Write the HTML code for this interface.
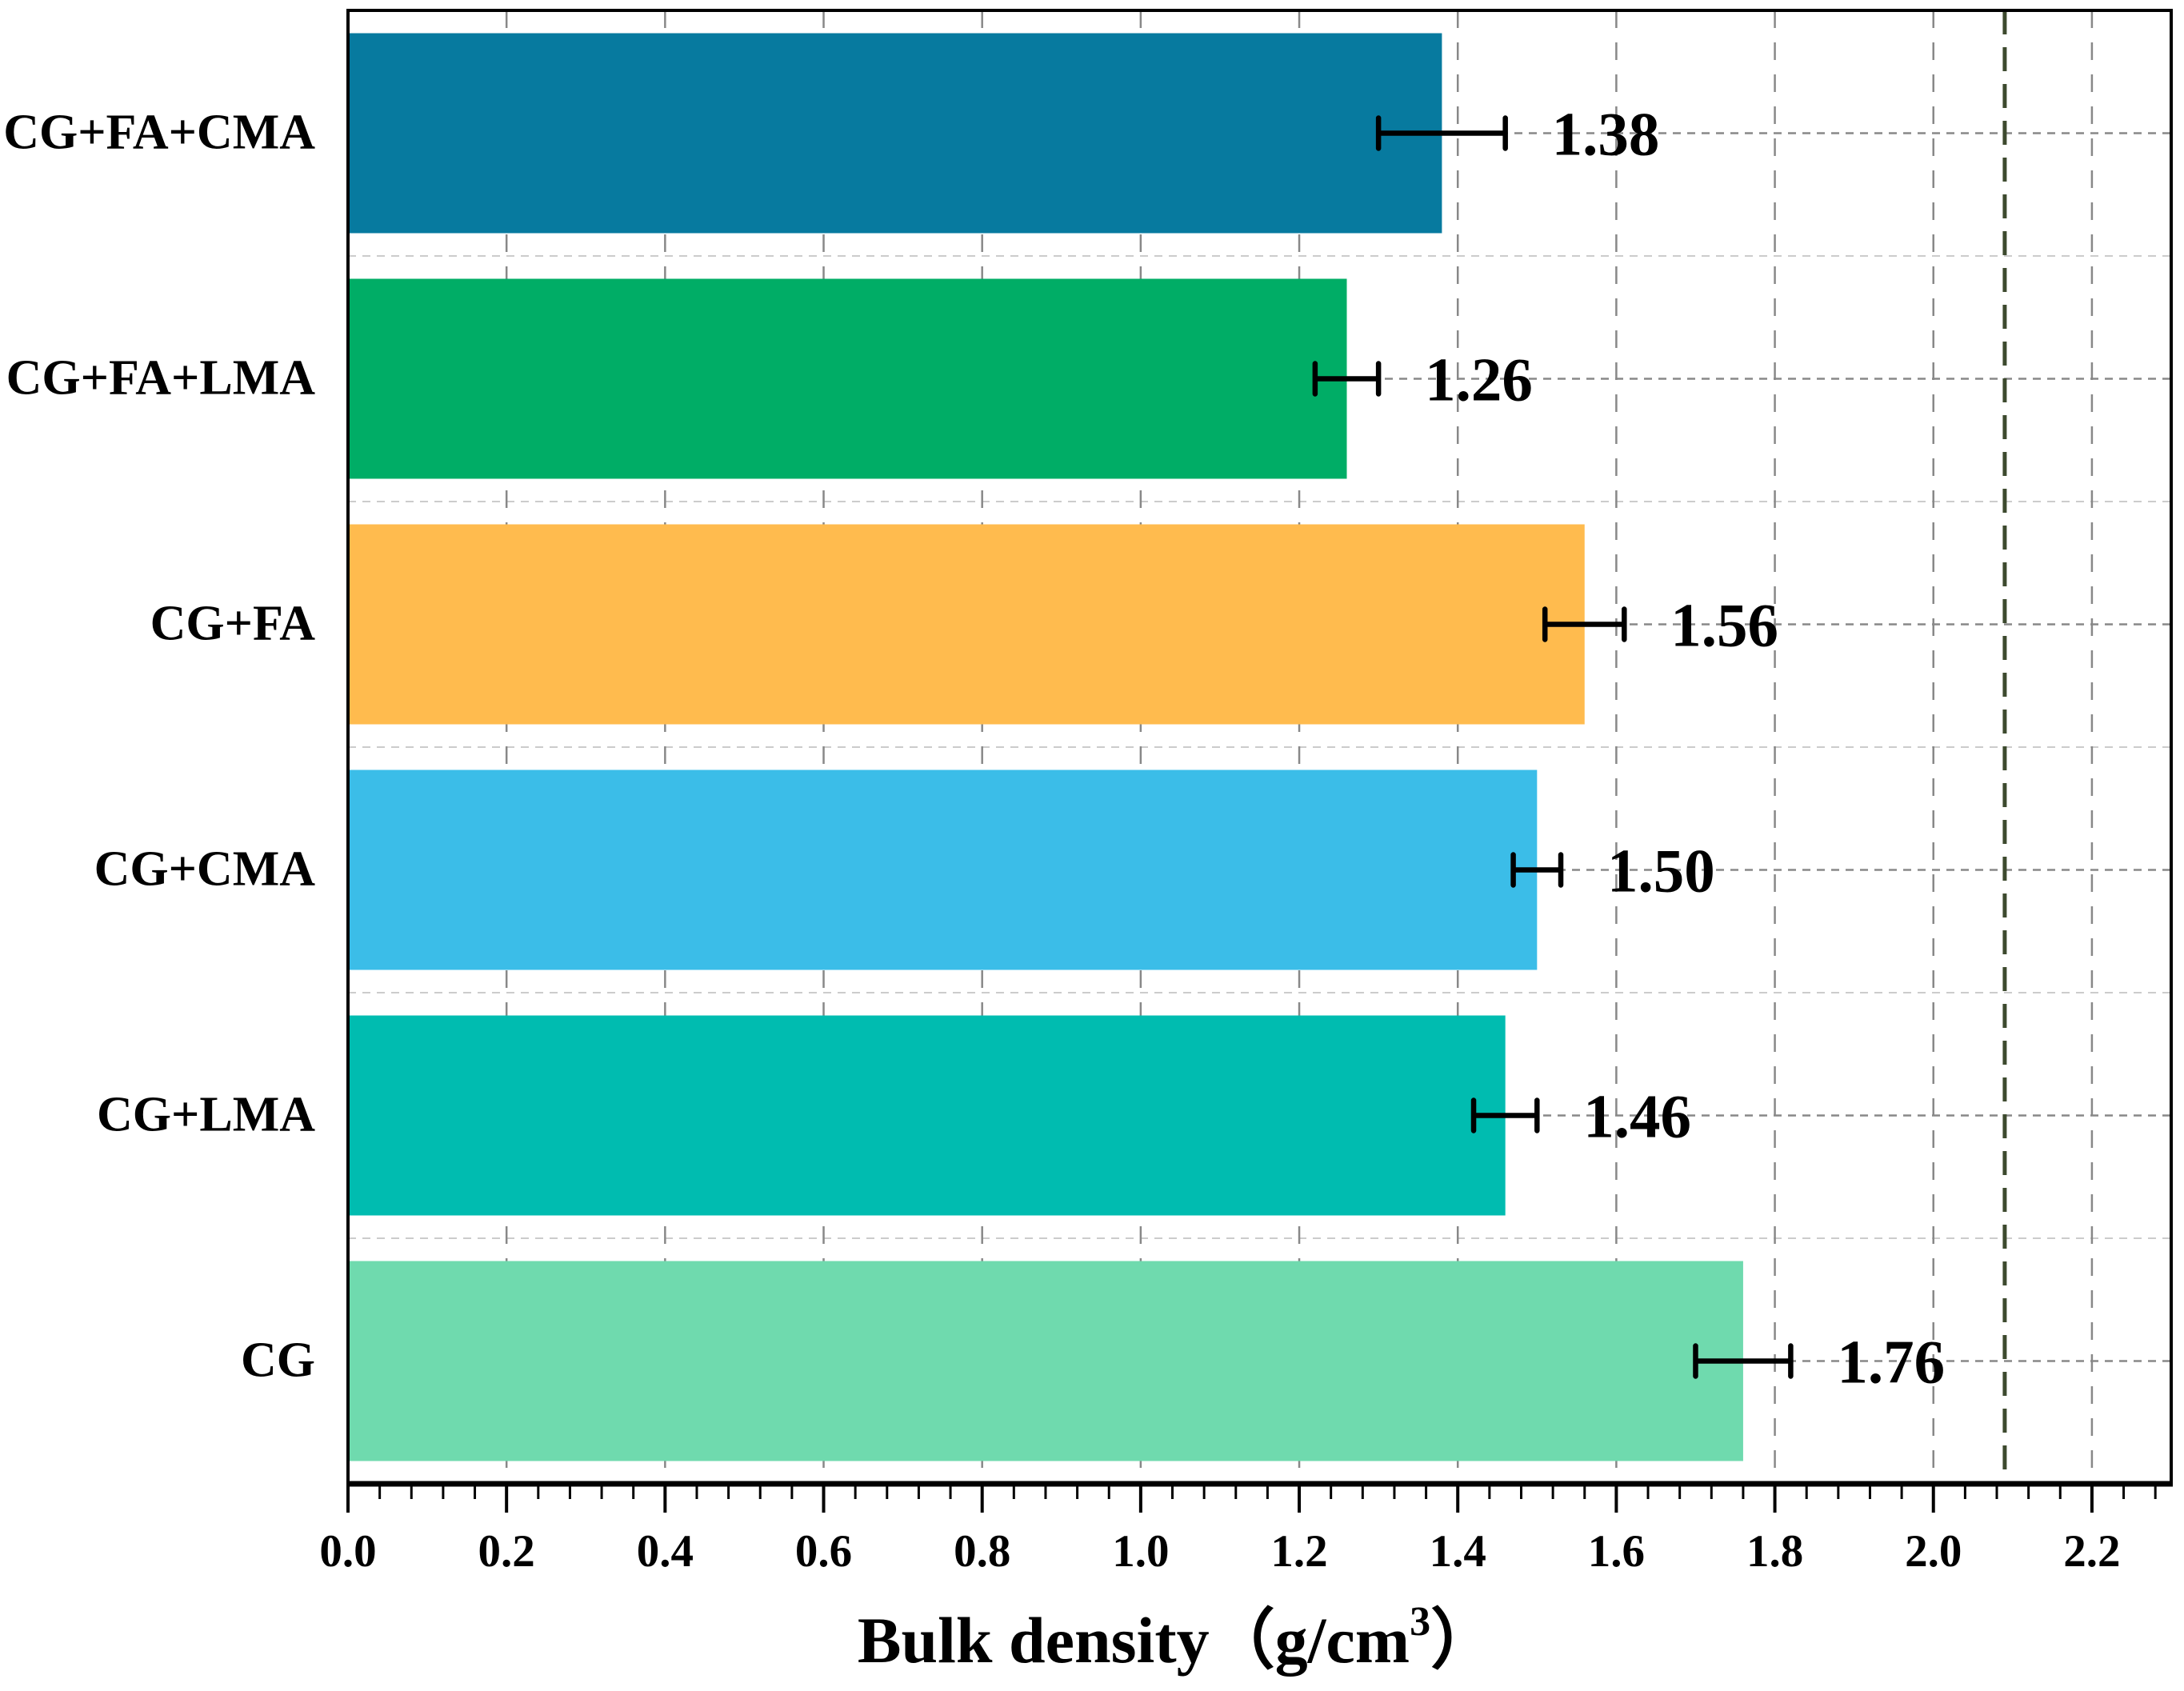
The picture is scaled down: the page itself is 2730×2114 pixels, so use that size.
<!DOCTYPE html>
<html><head><meta charset="utf-8"><style>
html,body{margin:0;padding:0;background:#fff;}
svg{display:block;}
text{font-family:"Liberation Serif",serif;font-weight:bold;fill:#000;}
</style></head><body>
<svg id="chart" width="2730" height="2114" viewBox="0 0 2730 2114" xmlns="http://www.w3.org/2000/svg">
<g id="grid"></g>
<g id="bars"></g>
<g id="axes"></g>
<text x="1471" y="2078" text-anchor="middle" font-size="82">Bulk density（g/cm<tspan font-size="52" dy="-34">3</tspan><tspan dy="34">）</tspan></text>
</svg>
<script>
const categories = ["CG+FA+CMA","CG+FA+LMA","CG+FA","CG+CMA","CG+LMA","CG"];
const values = [1.38,1.26,1.56,1.50,1.46,1.76];
const errors = [0.08,0.04,0.05,0.03,0.04,0.06];
const valueLabels = ["1.38","1.26","1.56","1.50","1.46","1.76"];
const colors = ["#077a9f","#00ad66","#ffbb4e","#3bbde8","#00bcb0","#6fdaae"];
const xTicks = [0,0.2,0.4,0.6,0.8,1.0,1.2,1.4,1.6,1.8,2.0,2.2];
const xTickLabels = ["0.0","0.2","0.4","0.6","0.8","1.0","1.2","1.4","1.6","1.8","2.0","2.2"];
const refLine = 2.09;

const L=435,R=2714,T=13,B=1855,XMAX=2.3;
const X=v=>L+(v/XMAX)*(R-L);
const band=(B-T)/categories.length;
const Yc=i=>T+band*(i+0.5);
const barH=250;
const NS="http://www.w3.org/2000/svg";
function mk(tag,attrs,parent){const e=document.createElementNS(NS,tag);for(const k in attrs)e.setAttribute(k,attrs[k]);parent.appendChild(e);return e;}
const grid=document.getElementById('grid'),bars=document.getElementById('bars'),axes=document.getElementById('axes');

for(let i=0;i<categories.length;i++){
  const g1=mk('line',{x1:L,x2:R,y1:Yc(i),y2:Yc(i),stroke:'#888','stroke-width':2.5,'stroke-dasharray':'10 8'},grid);
  
  
  if(i>0){
    const g2=mk('line',{x1:L,x2:R,y1:T+band*i,y2:T+band*i,stroke:'#ccc','stroke-width':2,'stroke-dasharray':'10 8'},grid);
    
    
  }
}
xTicks.forEach(v=>{ if(v===0)return;
  const g=mk('line',{x1:X(v),x2:X(v),y1:T,y2:B,stroke:'#888','stroke-width':2.5,'stroke-dasharray':'22 18'},grid);
  
  
});
categories.forEach((c,i)=>{
  const y=Yc(i)-barH/2;
  const r=mk('rect',{x:L,y:y,width:X(values[i])-L,height:barH,fill:colors[i]},bars);
  
  
  const lo=X(values[i]-errors[i]),hi=X(values[i]+errors[i]),yc=Yc(i);
  const e=mk('path',{d:`M${lo},${yc}H${hi}M${lo},${yc-19}V${yc+19}M${hi},${yc-19}V${yc+19}`,stroke:'#000','stroke-width':6.5,fill:'none','stroke-linecap':'round'},bars);
  
  
  const t=mk('text',{x:hi+58,y:yc+27,'font-size':77},bars);
  t.textContent=valueLabels[i];
  
  
  const cl=mk('text',{x:394,y:yc+19,'text-anchor':'end','font-size':62},axes);
  cl.textContent=c;
  
  
});
const rl=mk('line',{x1:X(refLine),x2:X(refLine),y1:T,y2:B,stroke:'#3d4a2e','stroke-width':5,'stroke-dasharray':'30 16'},bars);


const fr=mk('rect',{x:L,y:T,width:R-L,height:B-T,fill:'none',stroke:'#000','stroke-width':4},axes);


const xa=mk('line',{x1:L-2,x2:R+2,y1:B,y2:B,stroke:'#000','stroke-width':7},axes);


for(let k=0;k*0.04<=XMAX+1e-9;k++){
  const v=k*0.04,maj=(k%5===0);
  const tk=mk('line',{x1:X(v),x2:X(v),y1:B,y2:B+(maj?36:19),stroke:'#000','stroke-width':maj?4:3},axes);
  
  
}
xTicks.forEach((v,i)=>{
  const t=mk('text',{x:X(v),y:1958,'text-anchor':'middle','font-size':57},axes);
  t.textContent=xTickLabels[i];
  
  
});
</script>
</body></html>
